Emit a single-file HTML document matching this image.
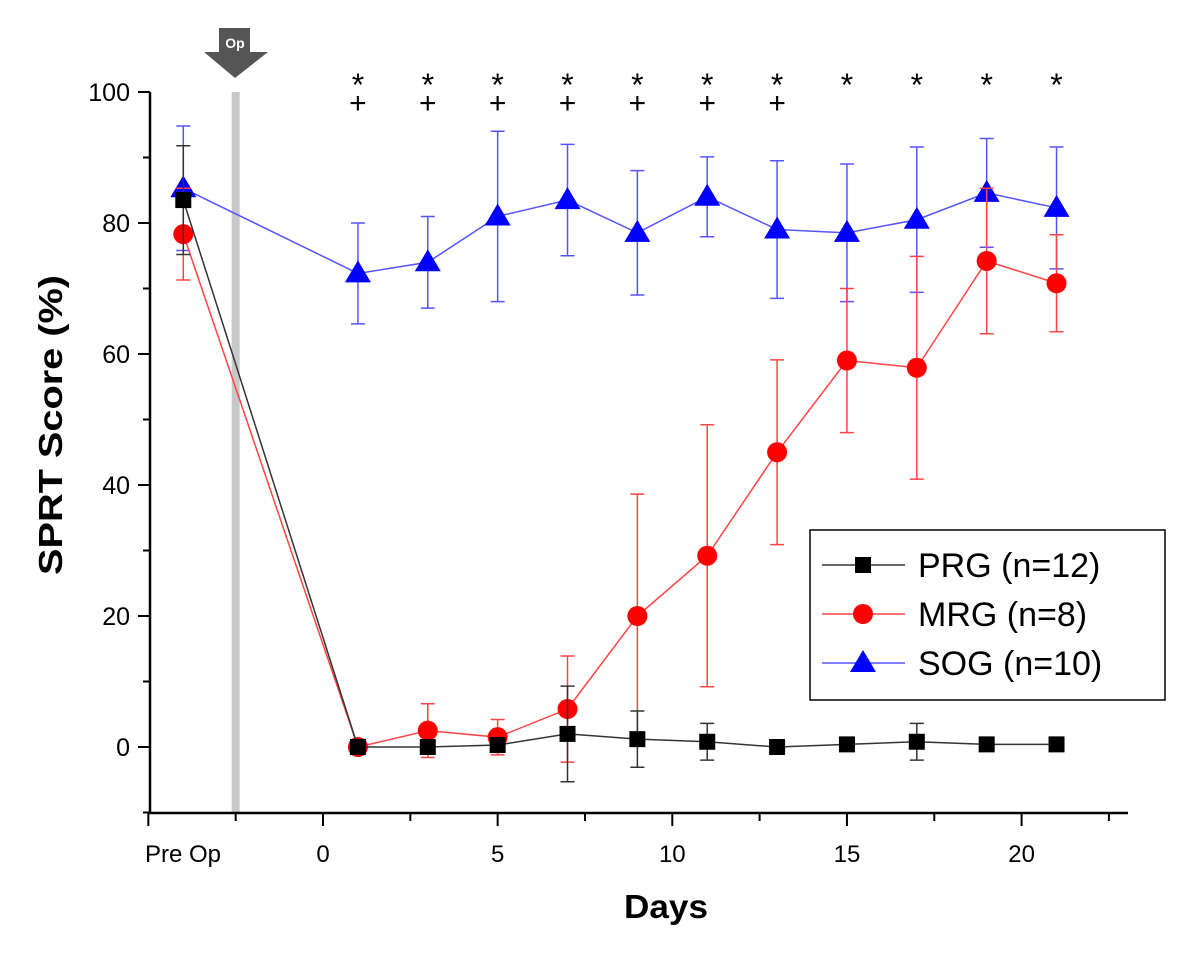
<!DOCTYPE html>
<html><head><meta charset="utf-8"><style>
body{margin:0;background:#fff;}
svg text{font-family:"Liberation Sans",sans-serif;}
</style></head><body>
<svg id="chart" width="1200" height="958" viewBox="0 0 1200 958" xmlns="http://www.w3.org/2000/svg">
<g id="g"></g>
</svg>
<script>
const days=[-4,1,3,5,7,9,11,13,15,17,19,21];
const prgVals=[83.5,0,0,0.3,2,1.2,0.8,0,0.4,0.8,0.4,0.4];
const prgErr=[8.3,0.5,0.5,0.5,7.3,4.3,2.8,0.3,0.5,2.8,0.5,0.5];
const mrgVals=[78.3,0,2.5,1.5,5.8,20,29.2,45,59,57.9,74.2,70.8];
const mrgErr=[7,0.3,4.1,2.7,8.1,18.6,20,14.1,11,17,11.1,7.4];
const sogVals=[85.3,72.3,74,81,83.5,78.5,84,79,78.5,80.5,84.6,82.3];
const sogErr=[9.5,7.7,7,13,8.5,9.5,6.1,10.5,10.5,11.1,8.3,9.3];
const yTicks=[0,20,40,60,80,100];
const xTicks=[0,5,10,15,20];
const starDays=[1,3,5,7,9,11,13,15,17,19,21];
const plusDays=[1,3,5,7,9,11,13];
const NS="http://www.w3.org/2000/svg";
const g=document.getElementById('g');
const X=d=>323+(d)*34.93;
const Y=v=>747-v*6.55;
function el(t,a,p){const e=document.createElementNS(NS,t);for(const k in a)e.setAttribute(k,a[k]);(p||g).appendChild(e);return e;}
let e=el('rect',{x:X(-2.5)-4,y:92,width:8,height:721,fill:'#c8c8c8'});

e=el('path',{d:'M219 28 H250 V52 H268 L235 78 L204 52 H219 Z',fill:'#555'});

e=el('text',{x:235,y:48,'text-anchor':'middle','font-size':14,'font-weight':'bold',fill:'#fff'});e.textContent='Op';

e=el('path',{d:'M150 92 V813 H1128',stroke:'#000','stroke-width':2.5,fill:'none'});

for(let v=-10;v<=100;v+=10){const major=v%20===0;el('line',{x1:major?138:143,x2:150,y1:Y(v),y2:Y(v),stroke:'#000','stroke-width':2});}
yTicks.forEach(v=>{const t=el('text',{x:130,y:Y(v)+9,'text-anchor':'end','font-size':25});t.textContent=v;
});
for(let d=-5;d<=22.5;d+=2.5){const major=d%5===0;el('line',{x1:X(d),x2:X(d),y1:813,y2:major?826:821,stroke:'#000','stroke-width':2});}
xTicks.forEach(v=>{const t=el('text',{x:X(v),y:862,'text-anchor':'middle','font-size':24});t.textContent=v;
});
e=el('text',{x:183,y:862,'text-anchor':'middle','font-size':24});e.textContent='Pre Op';

e=el('text',{x:624,y:918,'font-size':33,'font-weight':'bold',textLength:84,lengthAdjust:'spacingAndGlyphs'});e.textContent='Days';

e=el('text',{x:-575,y:62,'font-size':33,'font-weight':'bold',textLength:300,lengthAdjust:'spacingAndGlyphs',transform:'rotate(-90)'});e.textContent='SPRT Score (%)';

starDays.forEach(d=>{const t=el('text',{x:X(d),y:96,'text-anchor':'middle','font-size':32});t.textContent='*';
});
plusDays.forEach(d=>{const t=el('text',{x:X(d),y:113,'text-anchor':'middle','font-size':30});t.textContent='+';
});
function marker(shape,x,y,c,p){
 if(shape==='sq')return el('rect',{x:x-8,y:y-8,width:16,height:16,fill:c},p);
 if(shape==='ci')return el('circle',{cx:x,cy:y,r:10,fill:c},p);
 return el('path',{d:`M${x} ${y-13} L${x+13} ${y+9} L${x-13} ${y+9} Z`,fill:c},p);
}
function series(name,vals,err,color,lc,shape){
 const sg=el('g',{});
 
 days.forEach((d,i)=>{const x=X(d),t=Y(vals[i]+err[i]),b=Y(vals[i]-err[i]);
  const eb=el('path',{d:`M${x} ${t} V${b} M${x-7} ${t} H${x+7} M${x-7} ${b} H${x+7}`,stroke:lc,'stroke-width':1.5,fill:'none'},sg);
  });
 const l=el('polyline',{points:days.map((d,i)=>X(d)+','+Y(vals[i])).join(' '),stroke:lc,'stroke-width':1.5,fill:'none'},sg);
 
 days.forEach((d,i)=>{const m=marker(shape,X(d),Y(vals[i]),color,sg);
  });
}
series('sog',sogVals,sogErr,'#0000ff','#5555ff','tri');
series('mrg',mrgVals,mrgErr,'#ff0000','#ff4444','ci');
series('prg',prgVals,prgErr,'#000','#333','sq');
const lg=el('g',{});
el('rect',{x:810,y:530,width:355,height:170,fill:'#fff',stroke:'#000','stroke-width':1.5},lg);
[['PRG (n=12)','#000','#333','sq'],['MRG (n=8)','#ff0000','#ff4444','ci'],['SOG (n=10)','#0000ff','#5555ff','tri']].forEach((r,i)=>{
 const y=565+i*49;const eg=el('g',{},lg);
 
 el('line',{x1:822,x2:905,y1:y,y2:y,stroke:r[2],'stroke-width':1.5},eg);
 marker(r[3],863,y,r[1],eg);
 const t=el('text',{x:918,y:y+12,'font-size':34},eg);t.textContent=r[0];
});
</script>
</body></html>
